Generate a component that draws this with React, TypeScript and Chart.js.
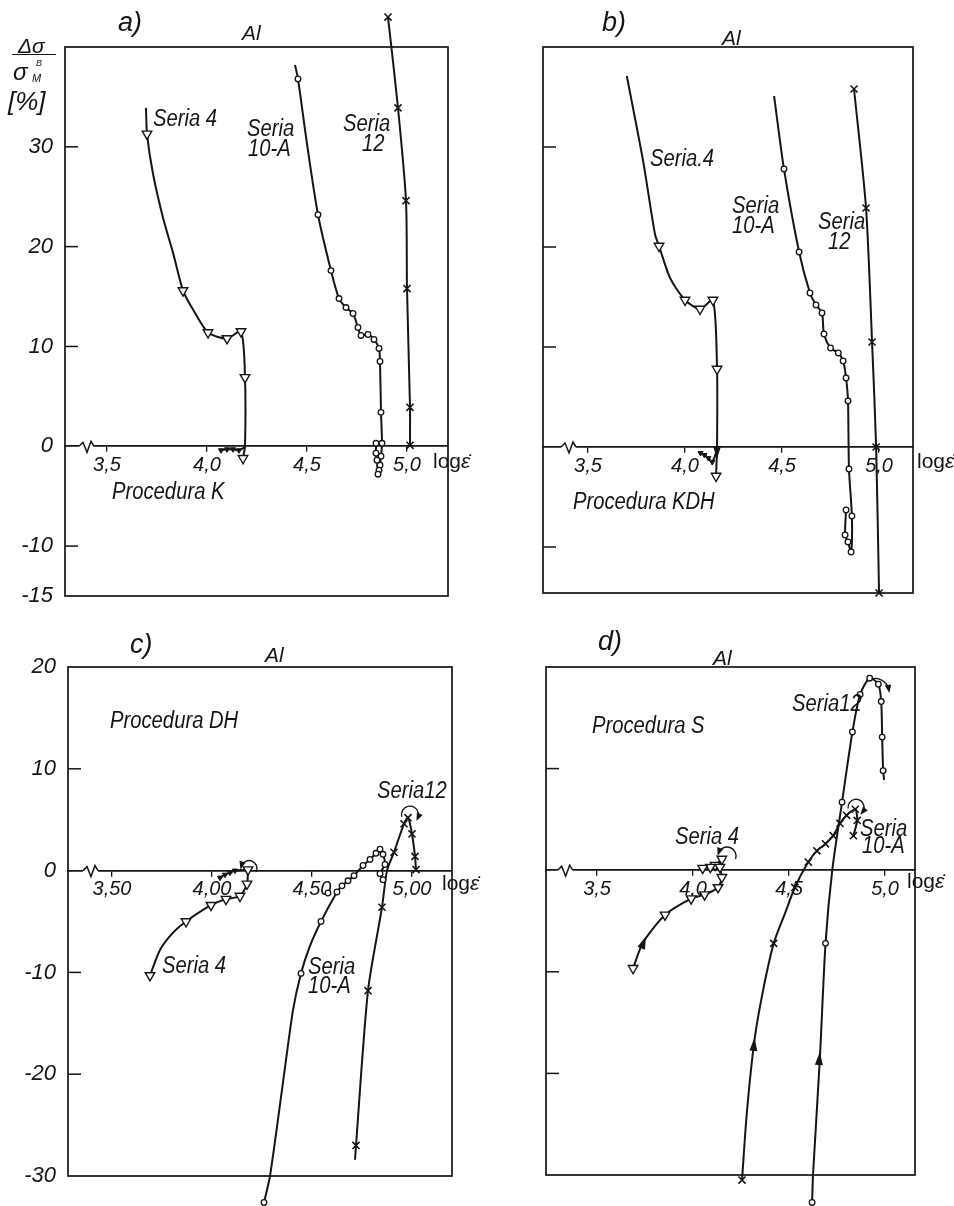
import React, { useEffect, useRef } from 'react';
import { Chart, registerables } from 'chart.js';

Chart.register(...registerables);

type Pt = [number, number, number]; // x = log(strain rate), y = delta sigma [%], 1 = measured point (marker)

// ---------- axis ticks ----------
const xTickValues = [3.5, 4.0, 4.5, 5.0];
const yLabelsA = [30, 20, 10, 0, -10, -15];
const yLabelsC = [20, 10, 0, -10, -20, -30];
const yMarksAB = [30, 20, 10, -10];
const yMarksCD = [10, -10, -20];

// ---------- a) Procedura K ----------
const aSeria4: Pt[] = [
  [3.695, 33.9, 0], [3.70, 31.3, 1], [3.73, 27.3, 0], [3.78, 22.9, 0], [3.83, 19.4, 0],
  [3.88, 15.6, 1], [3.93, 13.7, 0], [4.005, 11.4, 1], [4.10, 10.8, 1], [4.17, 11.5, 1],
  [4.19, 6.9, 1], [4.19, 0.0, 0], [4.18, -1.2, 1],
];
const aSeria4Zero: Pt[] = [[4.19, -0.1, 0], [4.16, -0.4, 1], [4.13, -0.3, 1], [4.10, -0.3, 1], [4.07, -0.4, 1]];
const aSeria10A: Pt[] = [
  [4.44, 38.2, 0], [4.455, 36.8, 1], [4.50, 30.3, 0], [4.555, 23.2, 1], [4.62, 17.6, 1],
  [4.66, 14.8, 1], [4.695, 13.9, 1], [4.73, 13.3, 1], [4.755, 11.9, 1], [4.77, 11.1, 1],
  [4.805, 11.2, 1], [4.835, 10.7, 1], [4.86, 9.8, 1], [4.865, 8.5, 1], [4.87, 3.4, 1],
  [4.875, 0.3, 1], [4.87, -1.0, 1], [4.865, -1.9, 1], [4.86, -2.4, 1], [4.855, -2.8, 1],
  [4.85, -1.4, 1], [4.845, -0.7, 1], [4.845, 0.3, 1],
];
const aSeria12: Pt[] = [
  [4.905, 43.0, 1], [4.955, 33.9, 1], [4.995, 24.6, 1], [5.0, 15.8, 1], [5.015, 3.9, 1], [5.015, 0.1, 1],
];

// ---------- b) Procedura KDH ----------
const bSeria4: Pt[] = [
  [3.70, 37.1, 0], [3.784, 28.6, 0], [3.845, 21.3, 0], [3.866, 20.1, 1], [3.923, 16.9, 0],
  [4.0, 14.7, 1], [4.077, 13.8, 1], [4.144, 14.7, 1], [4.165, 7.8, 1], [4.165, 0.0, 0], [4.16, -2.9, 1],
];
const bSeria4Zero: Pt[] = [[4.165, -0.3, 0], [4.14, -1.5, 1], [4.12, -1.1, 1], [4.10, -0.8, 1], [4.08, -0.6, 1]];
const bSeria10A: Pt[] = [
  [4.459, 35.1, 0], [4.51, 27.8, 1], [4.588, 19.5, 1], [4.644, 15.4, 1], [4.675, 14.2, 1],
  [4.706, 13.4, 1], [4.716, 11.3, 1], [4.75, 9.9, 1], [4.79, 9.4, 1], [4.815, 8.6, 1],
  [4.83, 6.9, 1], [4.84, 4.6, 1], [4.845, -2.2, 1], [4.86, -6.9, 1], [4.856, -10.5, 1],
  [4.84, -9.5, 1], [4.825, -8.8, 1], [4.83, -6.3, 1],
];
const bSeria12: Pt[] = [
  [4.871, 35.8, 1], [4.933, 23.9, 1], [4.964, 10.5, 1], [4.985, 0.0, 1], [5.0, -14.6, 1],
];

// ---------- c) Procedura DH ----------
const cSeria4: Pt[] = [
  [3.69, -10.3, 1], [3.74, -7.8, 0], [3.805, -6.1, 0], [3.87, -5.0, 1], [3.995, -3.4, 1],
  [4.07, -2.8, 1], [4.14, -2.5, 1], [4.175, -1.3, 1], [4.18, 0.1, 1],
];
const cSeria4Zero: Pt[] = [[4.18, 0.1, 0], [4.115, 0.0, 1], [4.09, -0.2, 1], [4.065, -0.4, 1], [4.04, -0.7, 1]];
const cSeria10A: Pt[] = [
  [4.26, -32.6, 1], [4.29, -30.0, 0], [4.355, -20.8, 0], [4.405, -13.7, 0], [4.445, -10.1, 1],
  [4.49, -7.4, 0], [4.545, -5.0, 1], [4.625, -2.1, 1], [4.65, -1.5, 1], [4.68, -1.0, 1],
  [4.71, -0.5, 1], [4.755, 0.5, 1], [4.79, 1.1, 1], [4.82, 1.7, 1], [4.84, 2.1, 1],
  [4.855, 1.6, 1], [4.865, 0.6, 1], [4.84, -0.3, 1], [4.855, -0.9, 1],
];
const cSeria10AExtra: Pt[] = [[4.58, -2.2, 1]];
const cSeria12: Pt[] = [
  [4.715, -28.4, 0], [4.72, -27.0, 1], [4.78, -11.8, 1], [4.85, -3.6, 1], [4.875, 0.0, 0],
  [4.91, 1.8, 1], [4.96, 4.6, 1], [4.98, 5.2, 1], [5.0, 3.6, 1], [5.015, 1.4, 1], [5.02, 0.1, 1],
];

// ---------- d) Procedura S ----------
const dSeria4: Pt[] = [
  [3.6875, -9.65, 1], [3.74, -7.1, 0], [3.854, -4.4, 1], [3.99, -2.8, 1], [4.06, -2.4, 1],
  [4.13, -1.7, 1], [4.15, -0.7, 1], [4.14, 0.3, 1], [4.15, 1.1, 1],
];
const dSeria4Zero: Pt[] = [[4.15, 1.1, 0], [4.115, 0.5, 1], [4.09, 0.3, 1], [4.05, 0.2, 1]];
const dSeria10A: Pt[] = [
  [4.255, -30.5, 1], [4.28, -23.9, 0], [4.32, -16.7, 0], [4.365, -11.8, 0], [4.42, -7.2, 1],
  [4.48, -4.2, 0], [4.53, -1.7, 1], [4.60, 0.8, 1], [4.645, 1.9, 1], [4.69, 2.6, 1],
  [4.73, 3.4, 1], [4.765, 4.6, 1], [4.80, 5.4, 1], [4.845, 6.0, 1], [4.855, 4.9, 1], [4.835, 3.4, 1],
];
const dSeria12: Pt[] = [
  [4.62, -32.7, 1], [4.625, -29.9, 0], [4.66, -18.7, 0], [4.69, -7.2, 1], [4.725, 0.0, 0],
  [4.776, 6.7, 1], [4.83, 13.6, 1], [4.87, 17.3, 1], [4.92, 18.9, 1], [4.965, 18.3, 1],
  [4.98, 16.6, 1], [4.985, 13.1, 1], [4.99, 9.8, 1], [4.995, 8.9, 0],
];

// ---------- direction arrows ----------
type Arc = { x: number; y: number; r: number; from: number; to: number };
type Head = { x: number; y: number; fx: number; fy: number };
const arcsC: Arc[] = [
  { x: 4.185, y: 0.2, r: 8, from: 25, to: -165 },
  { x: 4.99, y: 5.5, r: 8.5, from: 165, to: 385 },
];
const arcsD: Arc[] = [
  { x: 4.177, y: 1.4, r: 9, from: 20, to: -160 },
  { x: 4.849, y: 6.2, r: 8, from: 170, to: 400 },
  { x: 4.948, y: 17.5, r: 14, from: -105, to: -10 },
];
const headsB: Head[] = [{ x: 4.165, y: -1.2, fx: 4.165, fy: 0 }];
const headsD: Head[] = [
  { x: 3.755, y: -6.5, fx: 3.69, fy: -9.6 },
  { x: 4.32, y: -16.5, fx: 4.30, fy: -21 },
  { x: 4.66, y: -17.9, fx: 4.645, fy: -22 },
];

const INK = '#151515';
const FONT = "'Liberation Sans', Arial, sans-serif";

type Mk = 'tri' | 'triS' | 'circle' | 'cross';
function markerStyle(mk: Mk) {
  switch (mk) {
    case 'tri': return { ps: 'triangle', r: 5.5, rot: 180, bg: '#fff', bw: 1.4 };
    case 'triS': return { ps: 'triangle', r: 3, rot: 180, bg: INK, bw: 1 };
    case 'circle': return { ps: 'circle', r: 2.8, rot: 0, bg: '#fff', bw: 1.3 };
    default: return { ps: 'crossRot', r: 5, rot: 0, bg: INK, bw: 1.6 };
  }
}

function dataset(pts: Pt[], mk: Mk, line = true) {
  const s = markerStyle(mk);
  return {
    data: pts.map(([x, y, m]) => ({ x, y, m })),
    showLine: line,
    borderColor: INK,
    borderWidth: 2,
    tension: 0.25,
    capBezierPoints: false,
    pointStyle: s.ps,
    pointRadius: (c: any) => (c.raw && c.raw.m ? s.r : 0),
    pointHoverRadius: 0,
    pointRotation: s.rot,
    pointBackgroundColor: s.bg,
    pointBorderColor: INK,
    pointBorderWidth: s.bw,
    clip: false,
  };
}

type Spec = {
  id: string; left: number; top: number; w: number; h: number;
  pad: { left: number; top: number; right: number; bottom: number }; yAxisW: number;
  xMin: number; xMax: number; yMin: number; yMax: number; xDec: number;
  yLabels: number[]; yMarks: number[]; breakX: number;
  datasets: any[]; arcs: Arc[]; heads: Head[];
};

const specs: Spec[] = [
  {
    id: 'a', left: 0, top: 0, w: 477, h: 630, pad: { left: 3, top: 47, right: 29, bottom: 34 }, yAxisW: 62,
    xMin: 3.29, xMax: 5.205, yMin: -15, yMax: 40, xDec: 1, yLabels: yLabelsA, yMarks: yMarksAB, breakX: 3.365,
    datasets: [dataset(aSeria4, 'tri'), dataset(aSeria4Zero, 'triS'), dataset(aSeria10A, 'circle'), dataset(aSeria12, 'cross')],
    arcs: [], heads: [],
  },
  {
    id: 'b', left: 477, top: 0, w: 477, h: 630, pad: { left: 66, top: 47, right: 41, bottom: 37 }, yAxisW: 0,
    xMin: 3.268, xMax: 5.175, yMin: -14.6, yMax: 40, xDec: 1, yLabels: [], yMarks: yMarksAB, breakX: 3.366,
    datasets: [dataset(bSeria4, 'tri'), dataset(bSeria4Zero, 'triS'), dataset(bSeria10A, 'circle'), dataset(bSeria12, 'cross')],
    arcs: [], heads: headsB,
  },
  {
    id: 'c', left: 0, top: 590, w: 477, h: 616, pad: { left: 3, top: 77, right: 25, bottom: 30 }, yAxisW: 65,
    xMin: 3.28, xMax: 5.2, yMin: -30, yMax: 20, xDec: 2, yLabels: yLabelsC, yMarks: yMarksCD, breakX: 3.36,
    datasets: [dataset(cSeria4, 'tri'), dataset(cSeria4Zero, 'triS'), dataset(cSeria10A, 'circle'), dataset(cSeria10AExtra, 'circle', false), dataset(cSeria12, 'cross')],
    arcs: arcsC, heads: [],
  },
  {
    id: 'd', left: 477, top: 590, w: 477, h: 616, pad: { left: 69, top: 77, right: 39, bottom: 31 }, yAxisW: 0,
    xMin: 3.234, xMax: 5.156, yMin: -30, yMax: 20, xDec: 1, yLabels: [], yMarks: yMarksCD, breakX: 3.30,
    datasets: [dataset(dSeria4, 'tri'), dataset(dSeria4Zero, 'tri'), dataset(dSeria10A, 'cross'), dataset(dSeria12, 'circle')],
    arcs: arcsD, heads: headsD,
  },
];

function drawHead(ctx: CanvasRenderingContext2D, tx: number, ty: number, dx: number, dy: number, len: number, hw: number) {
  const n = Math.hypot(dx, dy) || 1;
  const ux = dx / n, uy = dy / n;
  const bx = tx - ux * len, by = ty - uy * len;
  ctx.beginPath();
  ctx.moveTo(tx, ty);
  ctx.lineTo(bx - uy * hw, by + ux * hw);
  ctx.lineTo(bx + uy * hw, by - ux * hw);
  ctx.closePath();
  ctx.fill();
}

function decorPlugin(spec: Spec) {
  return {
    id: 'decor' + spec.id,
    beforeDatasetsDraw(chart: any) {
      const { ctx, chartArea: ca, scales } = chart;
      const xs = scales.x, ys = scales.y;
      ctx.save();
      ctx.strokeStyle = INK;
      ctx.lineWidth = 1.7;
      ctx.strokeRect(ca.left, ca.top, ca.right - ca.left, ca.bottom - ca.top);
      ctx.lineWidth = 1.5;
      for (const v of spec.yMarks) {
        const py = ys.getPixelForValue(v);
        ctx.beginPath();
        ctx.moveTo(ca.left, py);
        ctx.lineTo(ca.left + 13, py);
        ctx.stroke();
      }
      // axis break
      const bx = xs.getPixelForValue(spec.breakX);
      const by = ys.getPixelForValue(0);
      ctx.fillStyle = '#fff';
      ctx.fillRect(bx - 1, by - 2, 15, 4);
      ctx.beginPath();
      ctx.moveTo(bx - 1, by);
      ctx.lineTo(bx + 3, by - 4);
      ctx.lineTo(bx + 7, by + 6);
      ctx.lineTo(bx + 11, by - 5);
      ctx.lineTo(bx + 14, by);
      ctx.stroke();
      ctx.restore();
      // markers that lie beyond the frame (as in the original figure) must still be drawn
      chart.$savedArea = chart.chartArea;
      chart.chartArea = { left: 0, top: 0, right: chart.width, bottom: chart.height, width: chart.width, height: chart.height };
    },
    afterDatasetsDraw(chart: any) {
      if (chart.$savedArea) { chart.chartArea = chart.$savedArea; chart.$savedArea = null; }
      const { ctx, scales } = chart;
      const xs = scales.x, ys = scales.y;
      ctx.save();
      ctx.strokeStyle = INK;
      ctx.fillStyle = INK;
      ctx.lineWidth = 1.4;
      for (const a of spec.arcs) {
        const cx = xs.getPixelForValue(a.x), cy = ys.getPixelForValue(a.y);
        const a1 = (a.from * Math.PI) / 180, a2 = (a.to * Math.PI) / 180;
        const anti = a2 < a1;
        ctx.beginPath();
        ctx.arc(cx, cy, a.r, a1, a2, anti);
        ctx.stroke();
        const px = cx + a.r * Math.cos(a2), py = cy + a.r * Math.sin(a2);
        let tx = -Math.sin(a2), ty = Math.cos(a2);
        if (anti) { tx = -tx; ty = -ty; }
        drawHead(ctx, px + tx * 3, py + ty * 3, tx, ty, 8, 3.2);
      }
      for (const h of spec.heads) {
        const tx = xs.getPixelForValue(h.x), ty = ys.getPixelForValue(h.y);
        const fx = xs.getPixelForValue(h.fx), fy = ys.getPixelForValue(h.fy);
        drawHead(ctx, tx, ty, tx - fx, ty - fy, 13, 4);
      }
      ctx.restore();
    },
  };
}

function buildConfig(spec: Spec): any {
  const tickFont = { family: FONT, size: 20, style: 'italic' as const };
  return {
    type: 'scatter',
    data: { datasets: spec.datasets },
    options: {
      animation: false,
      responsive: false,
      maintainAspectRatio: false,
      layout: { padding: spec.pad },
      plugins: { legend: { display: false }, tooltip: { enabled: false } },
      events: [],
      scales: {
        x: {
          type: 'linear',
          min: spec.xMin,
          max: spec.xMax,
          position: { y: 0 },
          afterBuildTicks: (s: any) => { s.ticks = xTickValues.map((v) => ({ value: v })); },
          ticks: {
            autoSkip: false,
            maxRotation: 0,
            padding: 2,
            color: INK,
            font: tickFont,
            callback: (v: any) => Number(v).toFixed(spec.xDec).replace('.', ','),
          },
          grid: { drawOnChartArea: false, drawTicks: true, tickLength: 5, color: INK, lineWidth: 1.3 },
          border: { display: true, color: INK, width: 1.7 },
        },
        y: {
          type: 'linear',
          min: spec.yMin,
          max: spec.yMax,
          position: 'left',
          afterFit: (s: any) => { s.width = spec.yAxisW; },
          afterBuildTicks: (s: any) => { s.ticks = spec.yLabels.map((v) => ({ value: v })); },
          ticks: {
            display: spec.yLabels.length > 0,
            autoSkip: false,
            padding: 12,
            color: INK,
            font: { family: FONT, size: 22, style: 'italic' },
            callback: (v: any) => String(v),
          },
          grid: { display: false, drawTicks: false },
          border: { display: false },
        },
      },
    },
    plugins: [decorPlugin(spec)],
  };
}

function Panel({ spec }: { spec: Spec }) {
  const ref = useRef<HTMLCanvasElement | null>(null);
  useEffect(() => {
    if (!ref.current) return;
    const chart = new Chart(ref.current, buildConfig(spec));
    return () => chart.destroy();
  }, [spec]);
  return (
    <canvas
      ref={ref}
      width={spec.w}
      height={spec.h}
      style={{ position: 'absolute', left: spec.left, top: spec.top, width: spec.w, height: spec.h }}
    />
  );
}

type Txt = { t: string; x: number; cap: number; fs?: number; sx?: number; up?: boolean };
const SER = { fs: 23, sx: 0.88 };
const texts: Txt[] = [
  // a
  { t: 'a)', x: 118, cap: 13, fs: 27, sx: 1 },
  { t: 'Al', x: 242, cap: 25, fs: 21, sx: 1 },
  { t: 'Seria 4', x: 153, cap: 110, ...SER },
  { t: 'Seria', x: 247, cap: 120, ...SER },
  { t: '10-A', x: 248, cap: 140, ...SER },
  { t: 'Seria', x: 343, cap: 115, ...SER },
  { t: '12', x: 362, cap: 135, ...SER },
  { t: 'Procedura K', x: 112, cap: 483, ...SER },
  // b
  { t: 'b)', x: 602, cap: 13, fs: 27, sx: 1 },
  { t: 'Al', x: 722, cap: 30, fs: 21, sx: 1 },
  { t: 'Seria.4', x: 650, cap: 150, ...SER },
  { t: 'Seria', x: 732, cap: 197, ...SER },
  { t: '10-A', x: 732, cap: 217, ...SER },
  { t: 'Seria', x: 818, cap: 213, ...SER },
  { t: '12', x: 828, cap: 233, ...SER },
  { t: 'Procedura KDH', x: 573, cap: 493, ...SER },
  // c
  { t: 'c)', x: 130, cap: 635, fs: 27, sx: 1 },
  { t: 'Al', x: 265, cap: 647, fs: 21, sx: 1 },
  { t: 'Procedura DH', x: 110, cap: 712, ...SER },
  { t: 'Seria12', x: 377, cap: 782, ...SER },
  { t: 'Seria 4', x: 162, cap: 957, ...SER },
  { t: 'Seria', x: 308, cap: 958, ...SER },
  { t: '10-A', x: 308, cap: 977, ...SER },
  // d
  { t: 'd)', x: 598, cap: 632, fs: 27, sx: 1 },
  { t: 'Al', x: 713, cap: 650, fs: 21, sx: 1 },
  { t: 'Procedura S', x: 592, cap: 717, ...SER },
  { t: 'Seria12', x: 792, cap: 695, ...SER },
  { t: 'Seria 4', x: 675, cap: 828, ...SER },
  { t: 'Seria', x: 860, cap: 820, ...SER },
  { t: '10-A', x: 862, cap: 837, ...SER },
];
const logLabels = [
  { x: 433, cap: 453 },
  { x: 917, cap: 453 },
  { x: 442, cap: 875 },
  { x: 907, cap: 873 },
];

function TextAt({ x, cap, fs = 21, sx = 1, up = false, children }: any) {
  return (
    <div
      style={{
        position: 'absolute', left: x, top: cap - 0.13 * fs, fontSize: fs, lineHeight: 1,
        fontFamily: FONT, fontStyle: up ? 'normal' : 'italic', whiteSpace: 'nowrap', color: INK,
        transform: `scaleX(${sx})`, transformOrigin: 'left top', pointerEvents: 'none',
      }}
    >
      {children}
    </div>
  );
}

export default function App() {
  return (
    <div style={{ position: 'absolute', left: 0, top: 0, width: 954, height: 1206, background: '#fff', overflow: 'hidden' }}>
      {specs.map((s) => <Panel key={s.id} spec={s} />)}
      {texts.map((l, i) => (
        <TextAt key={i} x={l.x} cap={l.cap} fs={l.fs} sx={l.sx} up={l.up}>{l.t}</TextAt>
      ))}
      {logLabels.map((l, i) => (
        <TextAt key={'log' + i} x={l.x} cap={l.cap} fs={21} up>
          log<span style={{ fontStyle: 'italic' }}>ε̇</span>
        </TextAt>
      ))}
      {/* y-axis title of panel a */}
      <TextAt x={18} cap={38} fs={21}>Δσ</TextAt>
      <div style={{ position: 'absolute', left: 12, top: 54, width: 44, borderTop: `1.6px solid ${INK}` }} />
      <TextAt x={13} cap={63} fs={24}>σ</TextAt>
      <TextAt x={32} cap={74} fs={11} sx={1}>M</TextAt>
      <TextAt x={36} cap={60} fs={9} sx={1}>B</TextAt>
      <TextAt x={8} cap={91} fs={26}>[%]</TextAt>
    </div>
  );
}
